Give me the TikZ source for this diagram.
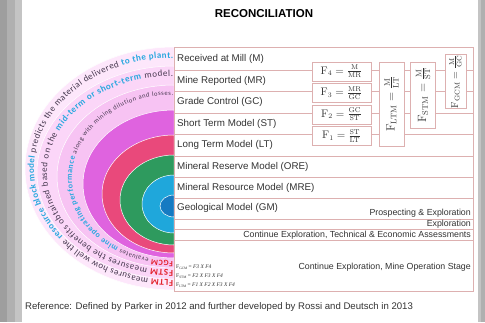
\documentclass[tikz,border=0pt]{standalone}
\usepackage[no-math]{fontspec}
\setmainfont{Liberation Sans}
\newfontfamily\ringfont{Carlito}
\newfontfamily\serifF{Liberation Serif}
\usetikzlibrary{decorations.text}

\definecolor{tline}{HTML}{DDB0B0}
\definecolor{bandA}{HTML}{FDE7FB}
\definecolor{bandB}{HTML}{FBD6F8}
\definecolor{bandC}{HTML}{F7C3F3}
\definecolor{magen}{HTML}{DF63DF}
\definecolor{crim}{HTML}{E9497B}
\definecolor{grn}{HTML}{2E9A5E}
\definecolor{cyn}{HTML}{1FA7DB}
\definecolor{dblue}{HTML}{167AC2}
\definecolor{ringred}{HTML}{E3202A}
\definecolor{ringdark}{HTML}{46384F}
\definecolor{ringcyan}{HTML}{29A8DF}
\definecolor{labelgray}{HTML}{333333}
\definecolor{grayA}{HTML}{9E9E9E}
\definecolor{grayB}{HTML}{B0B0B0}
\definecolor{grayC}{HTML}{C4C4C4}

\newcommand\RR[1]{\ringfont\fontsize{#1}{#1}\selectfont\bfseries\color{ringred}}
\newcommand\RD[1]{\ringfont\fontsize{#1}{#1}\selectfont\color{ringdark}}
\newcommand\RC[1]{\ringfont\fontsize{#1}{#1}\selectfont\bfseries\color{ringcyan}}

\tikzset{
  rowlabel/.style={anchor=west, inner sep=0pt, text=labelgray, font=\fontsize{9.8}{11}\selectfont},
  stagelabel/.style={anchor=east, inner sep=0pt, text=labelgray, font=\fontsize{8.8}{10}\selectfont},
  rbox/.style={draw=tline, fill=white, line width=0.6pt, inner sep=0pt, text=labelgray, font=\fontsize{10.5}{12}\selectfont},
  prodf/.style={anchor=west, inner sep=0pt, text=labelgray, font=\serifF\fontsize{5.5}{6}\selectfont},
  tl/.style={draw=tline, line width=0.6pt}
}

\begin{document}
\begin{tikzpicture}[x=1pt,y=1pt]
\useasboundingbox (0,0) rectangle (485,-322);
\fill[white] (0,0) rectangle (485,-322);
% side frame
\fill[grayA] (0,0) rectangle (7,-322);
\fill[grayB] (7,0) rectangle (15,-322);
\fill[grayC] (15,0) rectangle (22,-322);
\fill[grayC] (478,0) rectangle (481,-322);
\fill[grayB] (481,0) rectangle (485,-322);

% title
\node[font=\bfseries\fontsize{11.5}{13}\selectfont, text=black] (title) at (264,-14) {RECONCILIATION};

% nested half ellipses
\foreach \col/\cy/\rx/\ry in {bandA/168.5/149/121.5, bandB/172.5/137/106.5, bandC/176.5/117/91.5, magen/184/91/74, crim/194/72/59, grn/200/54/45, cyn/204/32/29, dblue/206/14/11}{
  \fill[\col, draw=white, line width=0.5pt] (174,-\cy+\ry) arc[start angle=90, end angle=270, x radius=\rx, y radius=\ry] -- cycle;
}

% ring texts
\path[decorate, decoration={text along path, text align={fit to path},
  text={|\RR{9}|FLTM|\RD{9}| measures how well the |\RC{9}|resource block model|\RD{9}| predicts the material delivered |\RC{9}|to the plant.||}}]
  (173,-280) arc[start angle=270, end angle=90, x radius=139, y radius=111];
\path[decorate, decoration={text along path, text align={fit to path},
  text={|\RR{9}|FSTM|\RD{9}| measures the benefits obtained based on the |\RC{9}|mid-term or short-term|\RD{9}| model.||}}]
  (173,-270) arc[start angle=270, end angle=90, x radius=126, y radius=97];
\path[decorate, decoration={text along path, text align={fit to path},
  text={|\RR{8}|FGCM|\RD{6.5}| evaluates |\RC{8}|mine operating performance|\RD{6.5}| along with mining dilution and losses.||}}]
  (173,-261) arc[start angle=270, end angle=90, x radius=101, y radius=83];

% table frame and rows
\draw[tl] (174,-47) rectangle (473,-291);
\foreach \yy in {70,91.5,113,134.5,156,177,198,219,229.5,240}{
  \draw[tl] (174,-\yy) -- (473,-\yy);
}

\node[rowlabel] (m)   at (177,-58.5) {Received at Mill (M)};
\node[rowlabel] (mr)  at (177,-80.8) {Mine Reported (MR)};
\node[rowlabel] (gc)  at (177,-102.2) {Grade Control (GC)};
\node[rowlabel] (st)  at (177,-123.8) {Short Term Model (ST)};
\node[rowlabel] (lt)  at (177,-145.2) {Long Term Model (LT)};
\node[rowlabel] (ore) at (177,-166.5) {Mineral Reserve Model (ORE)};
\node[rowlabel] (mre) at (177,-187.5) {Mineral Resource Model (MRE)};
\node[rowlabel] (gm)  at (177,-208) {Geological Model (GM)};

\node[stagelabel] (s1) at (471,-213) {Prospecting \& Exploration};
\node[stagelabel] (s2) at (471,-224) {Exploration};
\node[stagelabel] (s3) at (471,-235) {Continue Exploration, Technical \& Economic Assessments};
\node[stagelabel] (s4) at (471,-267) {Continue Exploration, Mine Operation Stage};

% ratio boxes
\node[rbox, minimum width=59, minimum height=19] (f4) at (341.5,-71.5) {$\mathrm{F_4}=\frac{\mathrm{M}}{\mathrm{MR}}$};
\node[rbox, minimum width=59, minimum height=19] (f3) at (341.5,-93) {$\mathrm{F_3}=\frac{\mathrm{MR}}{\mathrm{GC}}$};
\node[rbox, minimum width=59, minimum height=19] (f2) at (341.5,-114.5) {$\mathrm{F_2}=\frac{\mathrm{GC}}{\mathrm{ST}}$};
\node[rbox, minimum width=59, minimum height=19] (f1) at (341.5,-136) {$\mathrm{F_1}=\frac{\mathrm{ST}}{\mathrm{LT}}$};

\node[rbox, rotate=90, minimum width=84, minimum height=25, font=\fontsize{11.5}{13}\selectfont] (fltm) at (391.5,-104) {$\mathrm{F_{LTM}}=\frac{\mathrm{M}}{\mathrm{LT}}$};
\node[rbox, rotate=90, minimum width=66, minimum height=25, font=\fontsize{11.5}{13}\selectfont] (fstm) at (423,-95) {$\mathrm{F_{STM}}=\frac{\mathrm{M}}{\mathrm{ST}}$};
\node[rbox, rotate=90, minimum width=47, minimum height=21, font=\fontsize{10}{11}\selectfont] (fgcm) at (455.5,-81.5) {$\mathrm{F_{GCM}}=\frac{\mathrm{M}}{\mathrm{GC}}$};

% product formulas
\node[prodf] (p1) at (176,-267) {F\raisebox{-0.3ex}{\fontsize{3.5}{4}\selectfont GCM} = \textit{F3 X F4}};
\node[prodf] (p2) at (176,-276) {F\raisebox{-0.3ex}{\fontsize{3.5}{4}\selectfont STM} = \textit{F2 X F3 X F4}};
\node[prodf] (p3) at (176,-285) {F\raisebox{-0.3ex}{\fontsize{3.5}{4}\selectfont LTM} = \textit{F1 X F2 X F3 X F4}};

% reference
\node[anchor=west, inner sep=0pt, text=labelgray, font=\fontsize{9.6}{11}\selectfont] (ref) at (25,-307) {Reference: Defined by Parker in 2012 and further developed by Rossi and Deutsch in 2013};
\end{tikzpicture}
\end{document}
